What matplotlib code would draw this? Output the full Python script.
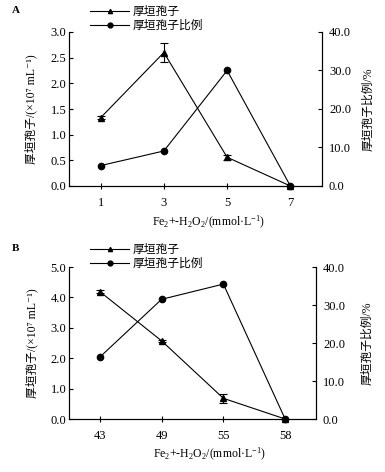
import matplotlib
matplotlib.use("Agg")
import matplotlib.pyplot as plt
from matplotlib.lines import Line2D

plt.rcParams['font.family'] = ['Liberation Serif', 'Noto Sans CJK SC', 'DejaVu Serif']
plt.rcParams['mathtext.fontset'] = 'custom'
plt.rcParams['mathtext.rm'] = 'Liberation Serif'
plt.rcParams['mathtext.it'] = 'Liberation Serif:italic'
plt.rcParams['mathtext.default'] = 'rm'

# panel A
a_labels = ["1", "3", "5", "7"]
a_spores = [1.33, 2.60, 0.56, 0.0]
a_spores_err = [0.03, 0.19, 0.05, 0.0]
a_ratio = [5.3, 9.1, 30.0, 0.0]

# panel B
b_labels = ["43", "49", "55", "58"]
b_spores = [4.19, 2.57, 0.68, 0.0]
b_spores_err = [0.04, 0.04, 0.15, 0.0]
b_ratio = [16.3, 31.5, 35.5, 0.0]

name_spores = "厚垣孢子"
name_ratio = "厚垣孢子比例"
ylab_left = "厚垣孢子/(×10⁷ mL⁻¹)"
ylab_right = "厚垣孢子比例/%"
xlab = "Fe$_2$+-H$_2$O$_2$/(mmol·L$^{-1}$)"

W, H = 385, 472
fig = plt.figure(figsize=(W / 100, H / 100), dpi=100)


def panel(rect, labels, spores, err, ratio, ymax, ystep, letter, leg_y, rlab_x, xlab_x):
    ax = fig.add_axes(rect)
    ax2 = ax.twinx()
    x = list(range(len(labels)))
    ax.errorbar(x, spores, yerr=err, color='black', lw=0.8, marker='^', ms=4,
                capsize=3, elinewidth=0.8, capthick=0.8, clip_on=False, zorder=3)
    ax2.plot(x, ratio, color='black', lw=0.8, marker='o', ms=4.5, clip_on=False, zorder=3)

    ax.set_xlim(-0.5, 3.5)
    ax.set_xticks(x)
    ax.set_xticklabels(labels)
    ax.set_ylim(0, ymax)
    ax.set_yticks([i * ystep for i in range(int(round(ymax / ystep)) + 1)])
    ax.yaxis.set_major_formatter(plt.FormatStrFormatter('%.1f'))
    ax2.set_ylim(0, 40)
    ax2.set_yticks([0, 10, 20, 30, 40])
    ax2.yaxis.set_major_formatter(plt.FormatStrFormatter('%.1f'))

    for a in (ax, ax2):
        a.spines['top'].set_visible(False)
        for s in a.spines.values():
            s.set_linewidth(0.8)
    ax.tick_params(axis='y', direction='in', length=3, width=0.8, labelsize=9, pad=2)
    ax.tick_params(axis='x', direction='inout', length=4, width=0.8, labelsize=9, pad=6)
    ax2.tick_params(axis='y', direction='in', length=3, width=0.8, labelsize=9, pad=5)

    ax.set_ylabel(ylab_left, fontsize=8.5)
    ax.yaxis.set_label_coords(-0.125, 0.5)
    ax2.set_ylabel(ylab_right, fontsize=8.5)
    ax2.yaxis.set_label_coords(rlab_x, 0.5)
    ax.set_xlabel(xlab, fontsize=8.5)
    ax.xaxis.set_label_coords(xlab_x, -0.18)

    handles = [Line2D([], [], color='black', lw=0.8, marker='^', ms=3),
               Line2D([], [], color='black', lw=0.8, marker='o', ms=3.5)]
    fig.legend(handles, [name_spores, name_ratio], loc='upper left',
               bbox_to_anchor=(0.235, leg_y), frameon=False, fontsize=8.5,
               handlelength=3.3, handletextpad=0.3, labelspacing=0.15,
               borderpad=0, borderaxespad=0)
    fig.text(0.03, leg_y, letter, fontsize=8, weight='bold', va='top')
    return ax


panel([69 / W, 1 - 186 / H, 253 / W, 154 / H], a_labels, a_spores, a_spores_err,
      a_ratio, 3.0, 0.5, "A", 1 - 6 / H, 1.16, 0.55)
panel([69 / W, 1 - 419 / H, 247 / W, 152 / H], b_labels, b_spores, b_spores_err,
      b_ratio, 5.0, 1.0, "B", 1 - 244 / H, 1.185, 0.57)

fig.savefig("out.png", dpi=100)
